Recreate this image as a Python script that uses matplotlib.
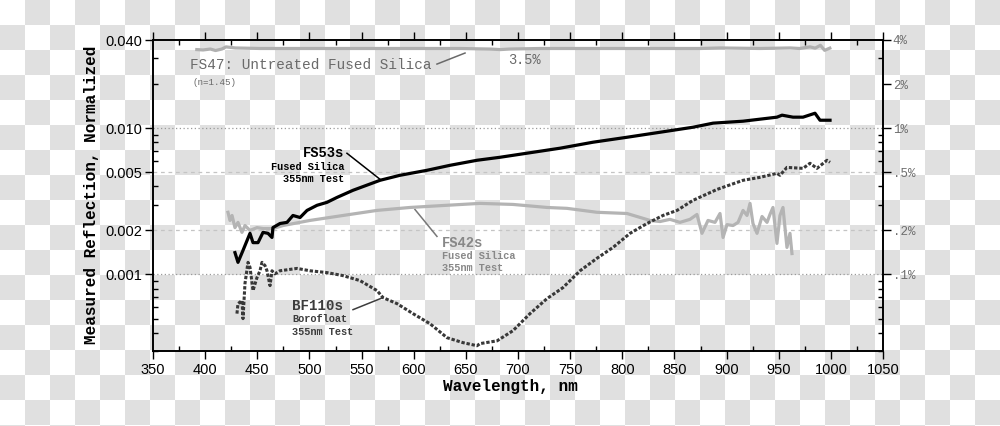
import numpy as np
import matplotlib
matplotlib.use("Agg")
import matplotlib.pyplot as plt
from matplotlib.ticker import FixedLocator, FixedFormatter, NullFormatter

# ---------------- data ----------------
fs47_wl = [392, 398, 405, 410, 416, 420, 429, 453, 491, 529, 568, 606, 644, 673,
           683, 692, 721, 760, 798, 836, 875, 894, 932, 961, 970, 980, 985, 990, 994, 999]
fs47_r = [0.0344, 0.0342, 0.0347, 0.0339, 0.0347, 0.0359, 0.0353, 0.0350, 0.0350,
          0.0350, 0.0350, 0.0350, 0.0350, 0.0347, 0.0344, 0.0347, 0.0350, 0.0350,
          0.0350, 0.0350, 0.0350, 0.0353, 0.0350, 0.0353, 0.0350, 0.0359, 0.0352,
          0.0368, 0.0340, 0.0352]

fs53_wl = [428.6, 431.5, 436.3, 443.0, 445.9, 450.7, 455.5, 460.3, 464.1, 465.0,
           471.8, 478.5, 484.2, 491.0, 497.7, 507.3, 516.8, 526.4, 541.8, 567.7,
           586.8, 612.7, 634.8, 660.7, 682.7, 740.3, 771.9, 804.5, 836.2, 867.8,
           887.0, 915.7, 948.3, 953.2, 963.7, 973.3, 984.8, 989.6, 999.2]
fs53_r = [0.00141, 0.00121, 0.00146, 0.00191, 0.00165, 0.00165, 0.00194, 0.00191,
          0.00179, 0.00209, 0.00223, 0.00227, 0.00253, 0.00245, 0.00274, 0.00297,
          0.00311, 0.00336, 0.00376, 0.00440, 0.00476, 0.00515, 0.00557, 0.00603,
          0.00632, 0.00729, 0.00801, 0.00866, 0.00937, 0.01014, 0.01081, 0.01115,
          0.01188, 0.01226, 0.01188, 0.01188, 0.01264, 0.01132, 0.01132]

fs42_wl = [421.9, 423.8, 425.8, 428.6, 431.5, 435.3, 438.2, 443.0, 449.7, 455.5,
           465.1, 474.7, 500.5, 532.2, 564.8, 596.4, 631.9, 663.6, 695.2, 727.8,
           747.0, 775.7, 804.5, 826.6, 836.2, 845.7, 855.3, 864.9, 871.6, 876.4,
           882.2, 888.9, 893.7, 896.6, 900.4, 906.2, 911.0, 915.8, 919.6, 922.5,
           925.3, 929.2, 934.0, 938.8, 941.6, 944.5, 948.3, 951.2, 954.1, 957.9,
           960.8, 962.7]
fs42_r = [0.00266, 0.00234, 0.00253, 0.00209, 0.00227, 0.00194, 0.00216, 0.00200,
          0.00209, 0.00206, 0.00206, 0.00216, 0.00234, 0.00253, 0.00274, 0.00287,
          0.00297, 0.00306, 0.00301, 0.00287, 0.00283, 0.00266, 0.00261, 0.00234,
          0.00230, 0.00238, 0.00227, 0.00238, 0.00257, 0.00191, 0.00234, 0.00227,
          0.00261, 0.00179, 0.00219, 0.00216, 0.00227, 0.00274, 0.00253, 0.00306,
          0.00223, 0.00191, 0.00249, 0.00227, 0.00257, 0.00287, 0.00163, 0.00253,
          0.00287, 0.00153, 0.00191, 0.00139]

bf110_wl = [430.5, 431.5, 435.3, 436.3, 438.2, 441.1, 443.0, 445.9, 449.7, 452.6,
            454.5, 457.4, 459.3, 462.2, 464.1, 467.0, 471.8, 488.1, 500.5, 516.8,
            532.2, 548.5, 564.8, 570.5, 584.0, 599.3, 615.6, 631.9, 647.3, 660.7,
            663.6, 679.9, 695.2, 711.5, 727.8, 743.1, 759.5, 775.7, 791.1, 807.4,
            823.7, 839.0, 852.5, 867.8, 890.8, 915.8, 932.1, 948.3, 951.2, 957.9,
            973.3, 980.0, 986.7, 996.3, 999.2]
bf110_r = [0.000540, 0.000632, 0.000663, 0.000499, 0.000867, 0.00121, 0.00112,
           0.000776, 0.000952, 0.00106, 0.00121, 0.00115, 0.00106, 0.000839,
           0.00106, 0.00101, 0.00106, 0.00110, 0.00106, 0.00103, 0.000982,
           0.000908, 0.000776, 0.000695, 0.000632, 0.000540, 0.000461, 0.000370,
           0.000342, 0.000326, 0.000337, 0.000352, 0.000413, 0.000540, 0.000684,
           0.000813, 0.00106, 0.00129, 0.00153, 0.00191, 0.00223, 0.00253,
           0.00274, 0.00321, 0.00381, 0.00440, 0.00461, 0.00491, 0.00476, 0.00539,
           0.00531, 0.00575, 0.00531, 0.00603, 0.00584]

x_ticks = list(range(350, 1051, 50))
left_ticks = [0.04, 0.01, 0.005, 0.002, 0.001]
left_labels = ["0.040", "0.010", "0.005", "0.002", "0.001"]
right_ticks = [0.04, 0.02, 0.01, 0.005, 0.002, 0.001]
right_labels = ["4%", "2%", "1%", ".5%", ".2%", ".1%"]

MONO = "Liberation Mono"
SANS = "Liberation Sans"

# ---------------- figure ----------------
W, H = 1000, 426
fig = plt.figure(figsize=(W / 100, H / 100), dpi=100)

# transparency checkerboard background of the reference
yy, xx = np.mgrid[0:H, 0:W]
chk = ((yy // 25 + xx // 25) % 2).astype(bool)
img = np.full((H, W, 3), 255, dtype=np.uint8)
img[chk] = 224
fig.figimage(img, xo=0, yo=0, origin="upper", zorder=-10)

ax = fig.add_axes([153 / W, 1 - 351 / H, 730 / W, 311 / H])
ax.set_facecolor("none")
ax.set_yscale("log")
ax.set_xlim(350, 1050)
ax.set_ylim(0.0003, 0.04)

# grid lines
for v in (0.01, 0.001):
    ax.axhline(v, color="#9a9a9a", lw=0.9, ls=(0, (1, 2)), zorder=1)
for v in (0.005, 0.002):
    ax.axhline(v, color="#c4c4c4", lw=0.9, ls=(0, (3, 3)), zorder=1)

# curves
ax.plot(fs47_wl, fs47_r, color="#b0b0b0", lw=2.3, zorder=3)
ax.plot(fs42_wl, fs42_r, color="#b4b4b4", lw=2.3, zorder=3)
ax.plot(fs53_wl, fs53_r, color="black", lw=2.3, zorder=4)
ax.plot(bf110_wl, bf110_r, color="#383838", lw=2.2, ls=(0, (1.1, 0.6)),
        solid_capstyle="butt", dash_capstyle="butt", zorder=5)

# ticks
minor_all = [0.03, 0.009, 0.008, 0.007, 0.006, 0.004, 0.003,
             0.0009, 0.0008, 0.0007, 0.0006, 0.0005, 0.0004, 0.0003]
ax.xaxis.set_major_locator(FixedLocator(x_ticks))
ax.xaxis.set_minor_locator(FixedLocator(list(range(375, 1050, 50))))
ax.yaxis.set_major_locator(FixedLocator(left_ticks))
ax.yaxis.set_major_formatter(FixedFormatter(left_labels))
ax.yaxis.set_minor_locator(FixedLocator(minor_all + [0.02]))
ax.yaxis.set_minor_formatter(NullFormatter())
ax.tick_params(axis="x", which="both", top=True, bottom=True)
ax.tick_params(axis="y", which="both", left=True, right=False)
ax.tick_params(which="major", direction="out", length=5.5, width=1.0, pad=2,
               labelsize=10.5)
ax.tick_params(which="minor", direction="in", length=3.5, width=1.0)
ax.tick_params(axis="x", which="major", pad=3)
for lab in ax.get_xticklabels() + ax.get_yticklabels():
    lab.set_fontfamily(SANS)

ax2 = ax.twinx()
ax2.set_facecolor("none")
ax2.set_yscale("log")
ax2.set_ylim(0.0003, 0.04)
ax2.yaxis.set_major_locator(FixedLocator(right_ticks))
ax2.yaxis.set_major_formatter(FixedFormatter(right_labels))
ax2.yaxis.set_minor_locator(FixedLocator(minor_all))
ax2.yaxis.set_minor_formatter(NullFormatter())
ax2.tick_params(which="major", direction="out", length=5.5, width=1.0, pad=1.5,
                labelsize=9, labelcolor="#6e6e6e")
ax2.tick_params(which="minor", direction="in", length=3.5, width=1.0)
for lab in ax2.get_yticklabels():
    lab.set_fontfamily(MONO)

for a in (ax, ax2):
    for s in a.spines.values():
        s.set_linewidth(1.2)

# axis titles
fig.text(510 / W, 1 - 387 / H, "Wavelength, nm", ha="center", va="center",
         fontsize=11.5, fontweight="bold", family=MONO)
fig.text(92 / W, 1 - 195 / H, "Measured Reflection, Normalized", ha="center",
         va="center", rotation=90, fontsize=11.5, fontweight="bold", family=MONO)

# annotations
ax.text(385.5, 0.0270, "FS47: Untreated Fused Silica", fontsize=10.4, family=MONO,
        color="#6a6a6a", ha="left", va="center")
ax.text(387.4, 0.0206, "(n=1.45)", fontsize=6.6, family=MONO, color="#6a6a6a",
        ha="left", va="center")
ax.plot([622.3, 649.2], [0.02739, 0.03258], color="#6a6a6a", lw=1.1)
ax.text(690.4, 0.0292, "3.5%", fontsize=9.8, family=MONO, color="#6a6a6a",
        ha="left", va="center")

ax.text(533.2, 0.00673, "FS53s", fontsize=9.9, family=MONO, fontweight="bold",
        color="black", ha="right", va="center")
ax.text(533.2, 0.00539, "Fused Silica", fontsize=7.4, family=MONO,
        fontweight="bold", color="black", ha="right", va="center")
ax.text(533.2, 0.00447, "355nm Test", fontsize=7.4, family=MONO,
        fontweight="bold", color="black", ha="right", va="center")
ax.plot([536.0, 567.7], [0.00673, 0.00447], color="black", lw=1.1)

ax.text(627.1, 0.00165, "FS42s", fontsize=9.9, family=MONO, fontweight="bold",
        color="#888888", ha="left", va="center")
ax.text(627.1, 0.00133, "Fused Silica", fontsize=7.4, family=MONO,
        fontweight="bold", color="#888888", ha="left", va="center")
ax.text(627.1, 0.00110, "355nm Test", fontsize=7.4, family=MONO,
        fontweight="bold", color="#888888", ha="left", va="center")
ax.plot([601.2, 622.3], [0.00278, 0.00182], color="#777777", lw=1.1)

ax.text(483.3, 0.000612, "BF110s", fontsize=10.2, family=MONO, fontweight="bold",
        color="#3c3c3c", ha="left", va="center")
ax.text(483.3, 0.000499, "Borofloat", fontsize=7.4, family=MONO,
        fontweight="bold", color="#3c3c3c", ha="left", va="center")
ax.text(483.3, 0.000406, "355nm Test", fontsize=7.4, family=MONO,
        fontweight="bold", color="#3c3c3c", ha="left", va="center")
ax.plot([541.8, 570.5], [0.000575, 0.000695], color="#3c3c3c", lw=1.1)

fig.savefig("out.png", dpi=100)
